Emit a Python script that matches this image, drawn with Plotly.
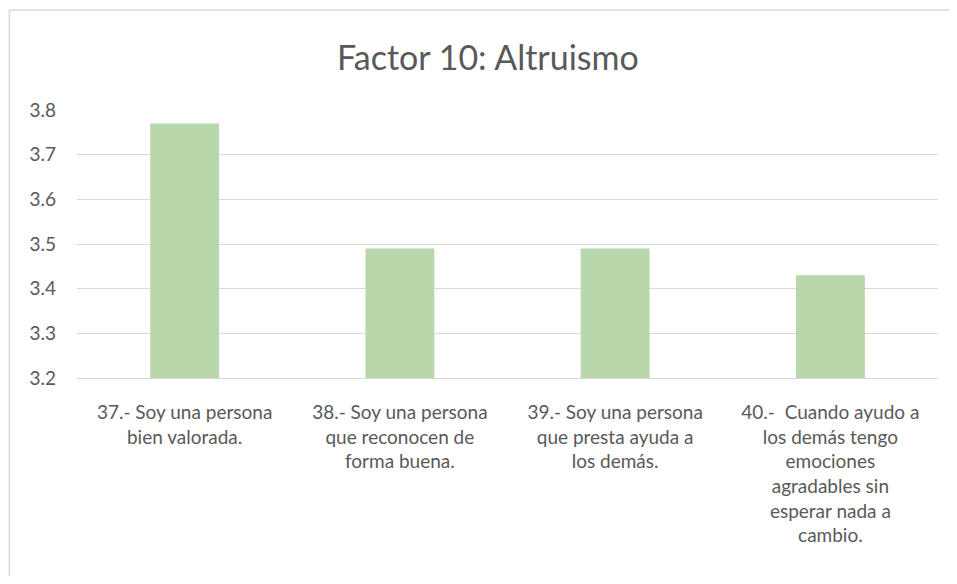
import plotly.graph_objects as go

# Preguntas del factor 10 y sus medias
preguntas = [
    "37.- Soy una persona<br>bien valorada.",
    "38.- Soy una persona<br>que reconocen de<br>forma buena.",
    "39.- Soy una persona<br>que presta ayuda a<br>los demás.",
    "40.-  Cuando ayudo a<br>los demás tengo<br>emociones<br>agradables sin<br>esperar nada a<br>cambio.",
]
medias = [3.77, 3.49, 3.49, 3.43]
ticks_y = [3.2, 3.3, 3.4, 3.5, 3.6, 3.7, 3.8]

fuente = "Lato, Liberation Sans, sans-serif"

fig = go.Figure(go.Bar(x=preguntas, y=medias, marker_color="#b8d7ab", marker_line_width=0))

# la página deja 8px de margen al div: se reduce el tamaño para evitar barras de desplazamiento
fig.update_layout(
    width=941, height=568,
    title=dict(text="Factor 10: Altruismo", x=0.51, xanchor="center", y=0.912, yanchor="middle",
               font=dict(family=fuente, size=34, color="#595959")),
    font=dict(family=fuente, size=19, color="#595959"),
    plot_bgcolor="white", paper_bgcolor="white",
    margin=dict(l=69, r=11, t=102, b=198),
    bargap=0.68,
    showlegend=False,
)
fig.update_yaxes(range=[3.2, 3.8], tickvals=ticks_y, tickformat=".1f", gridcolor="#d9d9d9",
                 gridwidth=1, zeroline=False, showline=False, ticks="", ticklabelstandoff=20)
fig.update_xaxes(showline=True, linecolor="#d9d9d9", linewidth=1, ticks="", tickangle=0,
                 ticklabelstandoff=17)

# marco del gráfico (solo borde superior e izquierdo visibles)
borde = dict(color="#d9d9d9", width=1.5)
fig.add_shape(type="line", xref="paper", yref="paper", x0=-0.0785, x1=1.2, y0=1.373, y1=1.373,
              line=borde, layer="below")
fig.add_shape(type="line", xref="paper", yref="paper", x0=-0.0785, x1=-0.0785, y0=-1, y1=1.373,
              line=borde, layer="below")

fig.write_html("out.html")
